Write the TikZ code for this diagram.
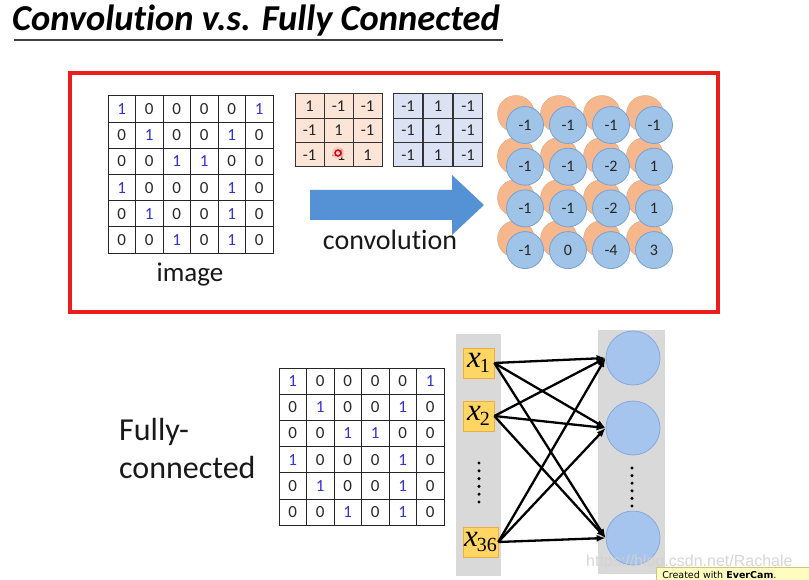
\documentclass[tikz,border=0pt]{standalone}
\usepackage{fontspec}
\setmainfont[Ligatures=NoCommon]{Carlito}
\newfontfamily\serifx{Liberation Serif}
\newfontfamily\wmfont{Liberation Sans}
\newfontfamily\badgefont{DejaVu Sans}
\usetikzlibrary{arrows.meta}
\definecolor{numblue}{RGB}{50,50,210}
\definecolor{numgray}{RGB}{40,40,40}
\definecolor{peach}{RGB}{252,228,214}
\definecolor{lav}{RGB}{218,226,243}
\definecolor{arrowblue}{RGB}{84,146,213}
\definecolor{cblue}{RGB}{160,196,232}
\definecolor{cblueb}{RGB}{120,160,210}
\definecolor{corange}{RGB}{246,183,140}
\definecolor{panelgray}{RGB}{217,217,217}
\definecolor{xyellow}{RGB}{255,214,100}
\definecolor{xyellowb}{RGB}{235,175,60}
\definecolor{nblue}{RGB}{165,196,238}
\definecolor{nblueb}{RGB}{135,170,220}
\definecolor{redbox}{RGB}{235,30,30}
\tikzset{
  cell/.style={draw=black!85, line width=1pt, inner sep=0pt, minimum width=27.5pt, minimum height=26.2pt, font=\fontsize{17}{17}\selectfont, text=numgray},
  fcell/.style={draw=black!80, line width=1pt, inner sep=0pt, minimum width=29pt, minimum height=24.3pt, font=\fontsize{16.5}{16.5}\selectfont, text=black!85},
  orangec/.style={circle, fill=corange, draw=corange!90!black, line width=0.4pt, minimum size=37pt, inner sep=0pt},
  bluec/.style={circle, fill=cblue, draw=cblueb, line width=0.8pt, minimum size=37pt, inner sep=0pt, font=\fontsize{16}{16}\selectfont, text=black!85},
  xbox/.style={fill=xyellow, draw=xyellowb, line width=0.6pt, minimum width=31pt, minimum height=30pt, inner sep=0pt},
  outc/.style={circle, fill=nblue, draw=nblueb, line width=0.8pt, minimum size=54pt, inner sep=0pt},
  conn/.style={line width=2.3pt, -{Latex[length=9pt,width=7pt]}},
  vdot/.style={circle, fill=black, inner sep=0pt, minimum size=3.4pt},
}
\newcommand\imgmatrix[3]{%
  \foreach \rowvals [count=\r] in {{1,0,0,0,0,1},{0,1,0,0,1,0},{0,0,1,1,0,0},{1,0,0,0,1,0},{0,1,0,0,1,0},{0,0,1,0,1,0}}{%
    \foreach \v [count=\c] in \rowvals {%
      \node[cell] (#1-\r-\c) at ({#2+(\c-0.5)*27.5},{#3+(\r-0.5)*26.2}) {\ifnum\v=1 \color{numblue}\fi\v};
    }%
  }%
}
\newcommand\xlab[1]{\serifx\itshape\fontsize{31}{31}\selectfont x\kern-1pt\raisebox{-0.4ex}{\upshape\fontsize{20}{20}\selectfont #1}}
\begin{document}
\begin{tikzpicture}[x=1pt,y=-1pt]
\useasboundingbox (0,0) rectangle (809,580);
\fill[white] (0,0) rectangle (809,580);
% title
\node[anchor=base west, inner sep=0pt, font=\fontsize{36.5}{36.5}\selectfont\bfseries\itshape] (title) at (12,31) {Convolution v.s. Fully Connected};
\draw[line width=2pt, black!75] (14,40) -- (503,40);
% red frame
\draw[redbox, line width=4pt] (70,73) rectangle (718,312);
% image matrix
\imgmatrix{im}{108}{96}
\node[font=\fontsize{27}{27}\selectfont, text=black!90] (imlabel) at (190,275) {image};
% filter 1
\foreach \rowvals [count=\r] in {{1,-1,-1},{-1,1,-1},{-1,-1,1}}{
  \foreach \v [count=\c] in \rowvals {
    \node[fcell, fill=peach] (fa-\r-\c) at ({295+(\c-0.5)*29},{94+(\r-0.5)*24.3}) {\v};
  }
}
% filter 2
\foreach \rowvals [count=\r] in {{-1,1,-1},{-1,1,-1},{-1,1,-1}}{
  \foreach \v [count=\c] in \rowvals {
    \node[fcell, fill=lav] (fb-\r-\c) at ({393+(\c-0.5)*30},{94+(\r-0.5)*24.3}) {\v};
  }
}
% cursor mark
\fill[red!25, opacity=0.7] (338,153) circle (6);
\draw[red!85!black, line width=1.4pt] (338,153) circle (3);
% big arrow
\fill[arrowblue] (310,190) -- (452,190) -- (452,175) -- (484,205) -- (452,235) -- (452,220) -- (310,220) -- cycle;
\node[font=\fontsize{28}{28}\selectfont, text=black!90] (convlabel) at (390,240) {convolution};
% feature maps
\foreach \cx [count=\c] in {525,568,611,654}{
  \foreach \cy [count=\r] in {125,167,209,250}{
    \node[orangec] (o-\r-\c) at (\cx-9,\cy-11) {};
  }
}
\foreach \rowvals [count=\r] in {{-1,-1,-1,-1},{-1,-1,-2,1},{-1,-1,-2,1},{-1,0,-4,3}}{
  \foreach \v [count=\c] in \rowvals {
    \node[bluec] (b-\r-\c) at ({525+(\c-1)*43},{125+(\r-1)*41.7}) {\v};
  }
}
% fully connected
\node[anchor=west, align=left, font=\fontsize{32}{38}\selectfont, text=black!90, inner sep=0pt] (fclabel) at (119,449) {Fully-\\connected};
\imgmatrix{fm}{279}{368}
% panels
\fill[panelgray] (456,334) rectangle (501,576);
\fill[panelgray] (598,330) rectangle (665,574);
\node[xbox] (x1) at (478.5,363) {\xlab{1}};
\node[xbox] (x2) at (478.5,416) {\xlab{2}};
\node[xbox, minimum width=35pt] (x36) at (480.5,542) {\xlab{36}};
\foreach \i in {0,...,5}{ \node[vdot] (ld\i) at (479,463+\i*7.8) {}; }
\node[outc] (c1) at (633,358) {};
\node[outc] (c2) at (633,428) {};
\node[outc] (c3) at (633,538) {};
\foreach \i in {0,...,5}{ \node[vdot] (rd\i) at (632,468+\i*7.6) {}; }
\foreach \s in {x1,x2,x36}{
  \foreach \t in {c1,c2,c3}{
    \draw[conn] (\s.east) -- (\t.west);
  }
}
% watermark and badge
\node[anchor=west, inner sep=0pt, font=\wmfont\fontsize{16}{16}\selectfont, text=gray!35, opacity=0.9] (wm) at (586,562) {https://blog.csdn.net/Rachale\_};
\node[anchor=north west, fill=yellow!25, draw=yellow!60!black!60, line width=0.5pt, inner xsep=6pt, inner ysep=2pt, minimum width=160pt, minimum height=15pt, text width=150pt, font=\badgefont\fontsize{9.5}{10}\selectfont] (badge) at (656,567) {Created with \textbf{EverCam}.};
\end{tikzpicture}
\end{document}
